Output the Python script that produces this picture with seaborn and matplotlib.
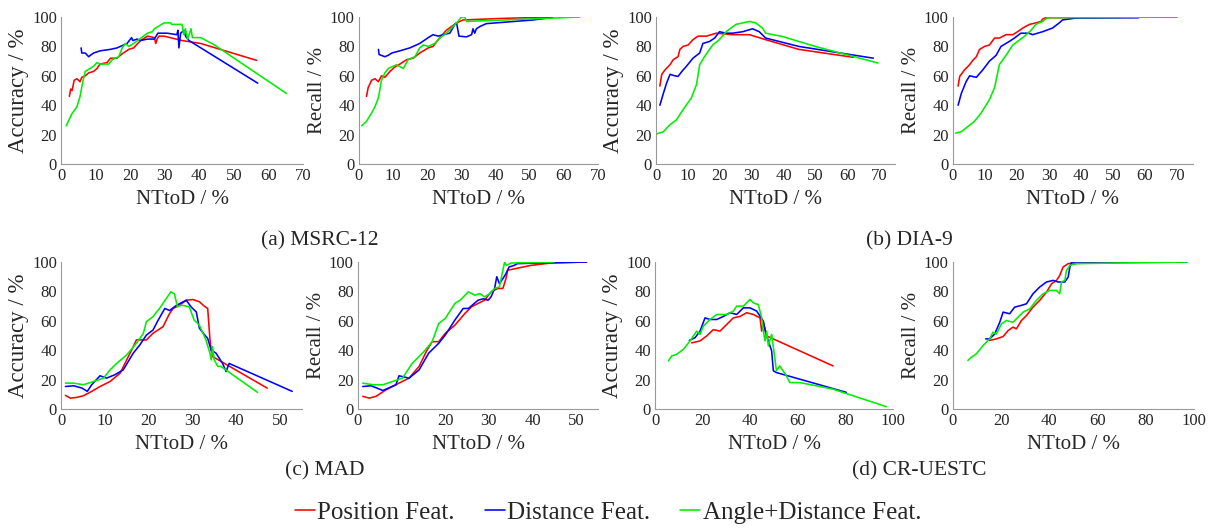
import numpy as np
import pandas as pd
import matplotlib
matplotlib.use("Agg")
import matplotlib.pyplot as plt
import seaborn as sns

# ---- data (x = NTtoD %, y = accuracy / recall %) ----
# (a) MSRC-12 accuracy
msrc_acc_pos_x = [2.4, 2.8, 3.2, 3.8, 4.6, 5.5, 6.0, 7.0, 8.0, 9.4, 10.4, 11.3, 13.3, 14.3, 16.2, 17.7, 19.6, 21.0, 23.0, 25.0, 27.0, 27.4, 27.8, 28.3, 29.8, 35.0, 40.4, 56.6]
msrc_acc_pos_y = [46, 51, 50, 57, 58, 56, 59, 60, 62, 63, 65, 68, 69, 72, 72, 75, 78, 79, 84, 87, 86, 82, 85, 87, 87, 84, 82, 70.5]
msrc_acc_dist_x = [5.8, 6.0, 7.0, 8.0, 8.5, 9.4, 11.3, 14.3, 16.2, 19.1, 20.4, 20.8, 22.0, 23.0, 25.0, 27.0, 28.0, 30.7, 33.5, 33.8, 34.1, 34.6, 35.6, 36.0, 37.0, 56.9]
msrc_acc_dist_y = [79, 75.5, 75.5, 73, 74, 75.5, 77, 78, 79, 82, 86, 84, 85, 84, 85, 85, 89, 89, 88, 91, 79, 89, 91, 87, 84, 55]
msrc_acc_ang_x = [1.5, 3.1, 4.6, 5.5, 6.3, 7.0, 8.4, 9.4, 10.4, 11.3, 13.8, 14.8, 16.7, 17.7, 18.6, 19.6, 21.0, 23.0, 25.0, 26.4, 27.0, 29.8, 31.7, 32.0, 35.0, 35.5, 36.0, 36.6, 37.6, 38.0, 40.4, 44.4, 65.2]
msrc_acc_ang_y = [26, 34, 39, 46, 56, 63, 65, 66.5, 69, 68, 68, 71, 73, 79, 82, 80, 82, 85.5, 89, 90, 92, 96, 96, 95, 95, 88, 92, 85, 92, 86, 86, 81, 48]

# (a) MSRC-12 recall
msrc_rec_pos_x = [2.2, 2.7, 3.7, 4.7, 5.7, 6.6, 7.6, 9.1, 10.5, 12.0, 14.0, 15.9, 17.8, 20.3, 21.7, 23.7, 25.6, 28.6, 30.5, 41.2, 56.8]
msrc_rec_pos_y = [46, 52, 57, 58, 56, 60, 59, 63, 66, 68, 71, 72, 75.5, 79, 80, 86, 91, 96, 98, 99, 100]
msrc_rec_dist_x = [5.7, 5.9, 7.6, 8.6, 9.6, 12.0, 14.9, 17.8, 20.3, 21.7, 23.2, 24.7, 26.6, 28.1, 28.6, 29.3, 31.5, 33.0, 33.4, 33.9, 34.4, 35.4, 37.3, 51.0, 56.8]
msrc_rec_dist_y = [78, 74.5, 73, 74, 75.5, 77, 79, 82, 86, 88, 87, 88, 89, 95, 96, 87, 86.5, 88, 92, 89, 92, 93.5, 95.5, 98, 99.8]
msrc_rec_ang_x = [0.8, 2.2, 3.7, 4.7, 5.7, 6.6, 7.6, 8.6, 10.0, 11.0, 13.0, 14.4, 16.4, 17.8, 18.8, 20.3, 22.2, 23.7, 25.6, 27.6, 29.0, 30.0, 31.0, 31.5, 64.6]
msrc_rec_ang_y = [26, 29, 34.7, 39, 45, 57, 62, 65, 66.5, 67.5, 65, 71, 73, 79, 81, 80, 82, 85.7, 89, 93.6, 97, 100, 100, 97, 100]

# (b) DIA-9 accuracy
dia_acc_pos_x = [1.2, 1.8, 2.8, 4.4, 5.4, 6.9, 7.5, 8.5, 10.1, 11.6, 13.2, 15.8, 18.9, 24.0, 29.3, 34.4, 44.8, 61.9]
dia_acc_pos_y = [53, 61, 64, 67.6, 71, 73, 78, 80, 81, 84.6, 87, 87, 89, 88, 88, 84.6, 78, 72.6]
dia_acc_dist_x = [1.2, 2.3, 3.3, 4.4, 5.9, 6.9, 8.5, 9.5, 11.6, 13.7, 14.7, 16.8, 18.4, 19.9, 22.0, 24.0, 27.2, 30.3, 32.4, 34.4, 44.8, 68.2]
dia_acc_dist_y = [40, 48, 55, 61, 60, 59.6, 64, 66.4, 72, 75.5, 82, 83.4, 85.7, 90, 89, 89, 90, 92, 90, 85.7, 80, 72]
dia_acc_ang_x = [0.4, 2.3, 4.4, 6.4, 8.5, 11.1, 12.7, 13.7, 15.2, 17.8, 19.9, 22.0, 23.5, 25.1, 27.2, 29.3, 31.3, 33.4, 34.4, 39.6, 50.0, 69.7]
dia_acc_ang_y = [20.6, 22, 26.8, 30, 37, 45, 54, 67.6, 73, 81, 84.6, 90, 92.5, 95, 96, 97, 96, 92.5, 89, 86.8, 80, 68.7]

# (b) DIA-9 recall
dia_rec_pos_x = [1.6, 2.1, 3.6, 5.2, 6.2, 7.3, 8.3, 9.9, 11.4, 13.0, 14.5, 16.6, 18.7, 20.2, 21.8, 23.9, 25.9, 27.5, 28.0, 29.0, 70.0]
dia_rec_pos_y = [53, 59.6, 64, 67.6, 70.5, 73, 78, 80, 81, 85.7, 85.7, 88, 88, 90, 92.5, 95, 96, 97, 98.6, 99.5, 100]
dia_rec_dist_x = [1.6, 2.6, 4.1, 5.2, 7.3, 9.3, 11.4, 13.5, 15.0, 17.6, 19.2, 21.2, 23.7, 24.9, 28.0, 31.1, 33.2, 34.2, 38.4, 58.0]
dia_rec_dist_y = [40, 48, 56, 60, 59, 64, 70, 74, 80, 83.4, 85.7, 89, 89, 88, 90, 92.5, 96, 98, 99.3, 99.5]
dia_rec_ang_x = [0.8, 2.6, 4.7, 6.7, 8.8, 11.4, 13.0, 14.5, 16.6, 18.7, 20.2, 22.3, 24.4, 25.9, 28.0, 29.5, 70.0]
dia_rec_ang_y = [21, 22, 25.6, 29, 34.7, 43.8, 52, 67.6, 74, 81, 83.4, 86.8, 91, 95, 97, 99.5, 100]

# (c) MAD accuracy
mad_acc_pos_x = [1.0, 2.1, 3.6, 5.1, 7.0, 8.9, 11.2, 13.5, 15.0, 16.5, 17.2, 19.5, 21.0, 23.3, 24.8, 25.6, 27.1, 28.6, 30.1, 31.6, 32.7, 33.5, 34.0, 34.3, 34.6, 47.1]
mad_acc_pos_y = [9.3, 7.4, 7.9, 9, 12, 15.3, 18.7, 24.4, 33.4, 42.4, 47, 47, 51.5, 56, 65, 68.4, 70.7, 74, 74.5, 73, 70, 68.4, 48, 40, 35.7, 14.2]
mad_acc_dist_x = [1.0, 2.9, 4.8, 6.0, 7.0, 8.9, 10.4, 12.3, 14.2, 16.5, 18.0, 19.5, 21.0, 22.2, 23.7, 24.8, 26.3, 28.6, 29.7, 30.9, 31.6, 32.5, 33.5, 34.3, 35.4, 36.9, 37.7, 38.4, 52.8]
mad_acc_dist_y = [15.3, 15.8, 14.2, 12, 16.5, 22.6, 21, 23.3, 26.6, 38, 43.6, 50.3, 53.7, 60.5, 68.4, 67, 70.4, 74, 69.5, 66, 55, 51.5, 48, 40, 38, 31, 25.5, 31, 12]
mad_acc_ang_x = [1.0, 2.9, 5.1, 7.4, 9.7, 11.2, 12.7, 15.0, 17.2, 18.8, 19.5, 21.0, 22.5, 24.0, 25.1, 25.9, 26.6, 27.5, 29.3, 30.4, 31.6, 33.1, 34.0, 34.3, 34.6, 35.0, 35.8, 36.5, 44.9]
mad_acc_ang_y = [17.6, 17.6, 16.5, 18.7, 21, 26.6, 31, 36.8, 44.7, 51.5, 59.4, 62.8, 68.4, 75, 79.7, 78.3, 69.5, 70.7, 69.5, 60.5, 57, 47, 38, 33.4, 42.4, 33.4, 29, 29, 11.3]

# (c) MAD recall
mad_rec_pos_x = [1.1, 2.6, 4.1, 6.4, 9.4, 11.7, 14.0, 15.8, 17.0, 18.5, 20.0, 22.2, 24.5, 26.0, 27.5, 29.0, 30.5, 32.0, 33.2, 33.9, 34.3, 39.6, 44.1, 52.4]
mad_rec_pos_y = [8.6, 7.4, 8.6, 13, 17.6, 21, 29, 40, 45.8, 45.8, 51.5, 57, 65, 69.5, 71.8, 74, 79.7, 82, 82, 88.7, 94.4, 97.7, 99.3, 100]
mad_rec_dist_x = [1.1, 3.0, 5.7, 8.7, 9.4, 11.7, 14.0, 16.2, 18.5, 20.0, 22.2, 24.1, 25.3, 27.5, 28.7, 29.8, 30.5, 31.3, 31.8, 32.4, 33.2, 33.9, 34.6, 35.8, 36.5, 43.4, 52.4]
mad_rec_dist_y = [15.3, 15.8, 12.6, 16.5, 22.6, 21, 26.6, 38, 44.7, 50.3, 60.5, 68.4, 68.4, 74, 75, 74, 76.3, 82, 90, 85.3, 88.7, 92, 96.6, 97.7, 98.9, 99.5, 100]
mad_rec_ang_x = [1.1, 3.4, 5.7, 7.9, 10.2, 12.4, 15.1, 17.0, 18.5, 20.0, 22.2, 23.4, 25.3, 26.8, 27.9, 29.0, 30.2, 31.3, 32.4, 33.6, 34.0, 35.1, 44.9]
mad_rec_ang_y = [17.6, 16.5, 16.5, 18.7, 21, 31, 39, 45.8, 58.2, 61.6, 71.8, 74, 79.7, 77.4, 78.5, 76.3, 78.5, 82, 83, 100, 97.7, 99.3, 100]

# (d) CR-UESTC accuracy
cr_acc_pos_x = [15.4, 18.9, 21.7, 24.5, 27.3, 30.1, 32.9, 35.7, 38.5, 41.3, 44.1, 44.8, 45.5, 46.9, 74.8]
cr_acc_pos_y = [45, 46.3, 49.7, 54, 53, 57.5, 62, 63, 65.5, 64.3, 62, 53, 58.7, 49.7, 29.3]
cr_acc_dist_x = [14.4, 16.8, 18.9, 21.0, 23.1, 25.9, 28.7, 31.5, 34.3, 37.1, 39.9, 42.7, 45.5, 46.6, 47.6, 49.0, 49.7, 51.0, 80.4]
cr_acc_dist_y = [46.7, 48.5, 53, 62, 60.9, 60.9, 63, 65.5, 64.3, 68.8, 68.8, 66.6, 59.8, 50.8, 46.3, 39.5, 26, 24.8, 11.3]
cr_acc_ang_x = [5.6, 7.0, 9.1, 11.9, 14.7, 17.5, 18.9, 20.3, 23.1, 25.9, 30.1, 32.9, 34.3, 37.1, 39.9, 41.3, 43.4, 44.8, 45.5, 46.2, 46.9, 47.6, 49.0, 50.3, 51.0, 52.4, 53.8, 55.2, 56.6, 60.8, 74.8, 97.2]
cr_acc_ang_y = [32.7, 36.1, 37.2, 40.6, 46.3, 53, 50.8, 56.4, 60.9, 64.3, 64.3, 66.6, 70, 70, 74.5, 72.2, 71, 62, 53, 46.3, 53, 42.9, 50.8, 35, 26, 29.3, 26, 22.6, 18, 18, 13.5, 1.6]

# (d) CR-UESTC recall
cr_rec_pos_x = [15.0, 18.0, 20.8, 22.9, 24.9, 26.3, 28.4, 30.5, 33.2, 36.0, 38.8, 40.9, 43.0, 44.3, 45.7, 47.8, 60.9, 97.0]
cr_rec_pos_y = [46.6, 47.7, 49.3, 53.4, 55.7, 54.5, 60.2, 63.6, 69.3, 73.9, 79.5, 85.2, 87.5, 90.9, 96.6, 98.9, 99.5, 100]
cr_rec_dist_x = [13.6, 15.2, 17.3, 19.4, 20.8, 23.5, 25.6, 28.4, 30.5, 33.2, 36.0, 38.8, 41.6, 43.6, 46.4, 47.8, 48.5, 49.2, 54.0, 97.0]
cr_rec_dist_y = [47.7, 47.7, 51, 59, 65.9, 64.8, 69.3, 70.5, 71.6, 78.4, 83, 86.4, 87.5, 86.4, 86.4, 89.8, 96.6, 100, 100, 100]
cr_rec_ang_x = [6.2, 7.6, 9.7, 12.5, 15.2, 16.6, 18.0, 20.1, 22.2, 24.9, 27.0, 29.1, 31.9, 34.6, 37.4, 40.2, 42.9, 44.3, 45.0, 46.4, 47.1, 48.5, 51.2, 97.0]
cr_rec_ang_y = [33, 35.2, 37.5, 43.2, 47.7, 52.3, 51, 57.9, 60.2, 59, 62.5, 65.9, 68.2, 73.9, 78.4, 80.7, 80.7, 78.4, 86.4, 87.5, 94.3, 97.7, 98.9, 100]

series_names = ["Position Feat.", "Distance Feat.", "Angle+Distance Feat."]
series_colors = ["#ff0000", "#0000ff", "#00ee00"]
captions = ["(a) MSRC-12", "(b) DIA-9", "(c) MAD", "(d) CR-UESTC"]

sns.set_theme(style="white")
plt.rcParams["font.family"] = ["Liberation Serif", "DejaVu Serif"]

fig = plt.figure(figsize=(12.16, 5.32), dpi=100)

# panel = (left, bottom, width, xmax, xticks, ylabel, series)
panels = [
    (0.0502, 0.6917, 0.199, 70, np.arange(0, 71, 10), "Accuracy / %",
     [(msrc_acc_pos_x, msrc_acc_pos_y), (msrc_acc_dist_x, msrc_acc_dist_y), (msrc_acc_ang_x, msrc_acc_ang_y)]),
    (0.2952, 0.6917, 0.1965, 70, np.arange(0, 71, 10), "Recall / %",
     [(msrc_rec_pos_x, msrc_rec_pos_y), (msrc_rec_dist_x, msrc_rec_dist_y), (msrc_rec_ang_x, msrc_rec_ang_y)]),
    (0.5395, 0.6917, 0.1965, 75, np.arange(0, 71, 10), "Accuracy / %",
     [(dia_acc_pos_x, dia_acc_pos_y), (dia_acc_dist_x, dia_acc_dist_y), (dia_acc_ang_x, dia_acc_ang_y)]),
    (0.7837, 0.6917, 0.1974, 75, np.arange(0, 71, 10), "Recall / %",
     [(dia_rec_pos_x, dia_rec_pos_y), (dia_rec_dist_x, dia_rec_dist_y), (dia_rec_ang_x, dia_rec_ang_y)]),
    (0.0502, 0.2312, 0.198, 55, np.arange(0, 51, 10), "Accuracy / %",
     [(mad_acc_pos_x, mad_acc_pos_y), (mad_acc_dist_x, mad_acc_dist_y), (mad_acc_ang_x, mad_acc_ang_y)]),
    (0.2944, 0.2312, 0.1974, 55, np.arange(0, 51, 10), "Recall / %",
     [(mad_rec_pos_x, mad_rec_pos_y), (mad_rec_dist_x, mad_rec_dist_y), (mad_rec_ang_x, mad_rec_ang_y)]),
    (0.5387, 0.2312, 0.1957, 100, np.arange(0, 101, 20), "Accuracy / %",
     [(cr_acc_pos_x, cr_acc_pos_y), (cr_acc_dist_x, cr_acc_dist_y), (cr_acc_ang_x, cr_acc_ang_y)]),
    (0.7837, 0.2312, 0.1982, 100, np.arange(0, 101, 20), "Recall / %",
     [(cr_rec_pos_x, cr_rec_pos_y), (cr_rec_dist_x, cr_rec_dist_y), (cr_rec_ang_x, cr_rec_ang_y)]),
]

for left, bottom, width, xmax, xticks, ylab, series in panels:
    ax = fig.add_axes([left, bottom, width, 0.2763])
    for (xs, ys), name, col in zip(series, series_names, series_colors):
        d = pd.DataFrame({"x": xs, "y": ys})
        sns.lineplot(data=d, x="x", y="y", sort=False, estimator=None,
                     color=col, linewidth=1.15, ax=ax, label=name, legend=False)
    ax.set_xlim(0, xmax)
    ax.set_ylim(0, 100)
    ax.set_xticks(xticks)
    ax.set_yticks(np.arange(0, 101, 20))
    ax.set_xlabel("NTtoD / %", fontsize=15, labelpad=4)
    # the accuracy label is visibly longer in the reference than the recall one
    ax.set_ylabel(ylab, fontsize=16.5 if ylab.startswith("Acc") else 15, labelpad=2)
    ax.tick_params(axis="x", labelsize=12, direction="in", length=2, color="#999999", pad=3)
    ax.tick_params(axis="y", labelsize=12, direction="in", length=2, color="#999999", pad=3)
    for s in ["top", "right"]:
        ax.spines[s].set_visible(False)
    for s in ["left", "bottom"]:
        ax.spines[s].set_color("#999999")
        ax.spines[s].set_linewidth(0.8)

fig.text(0.263, 0.548, captions[0], ha="center", va="center", fontsize=15.5)
fig.text(0.748, 0.548, captions[1], ha="center", va="center", fontsize=15.5)
fig.text(0.267, 0.115, captions[2], ha="center", va="center", fontsize=15.5)
fig.text(0.756, 0.115, captions[3], ha="center", va="center", fontsize=15.5)

handles = fig.axes[0].get_lines()[:3]
fig.legend(handles, series_names, loc="center", bbox_to_anchor=(0.5, 0.036),
           ncol=3, frameon=False, fontsize=18, handlelength=0.8,
           handletextpad=0.1, columnspacing=1.2)

fig.savefig("out.png", dpi=100)
